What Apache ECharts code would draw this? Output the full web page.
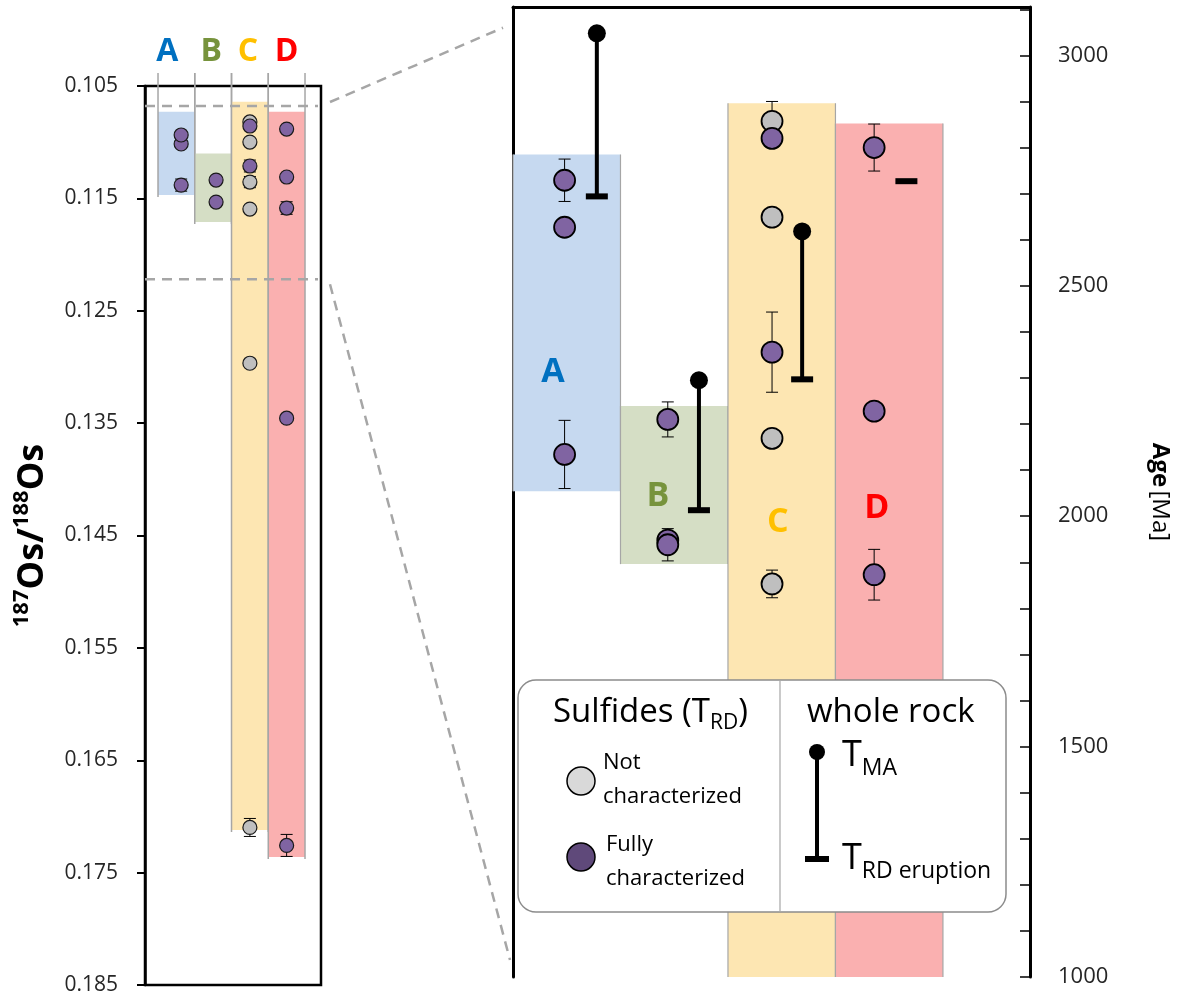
<!DOCTYPE html>
<html>
<head>
<meta charset="utf-8">
<script src="https://cdn.jsdelivr.net/npm/echarts@6/dist/echarts.min.js"></script>
<style>
  html, body { margin: 0; padding: 0; background: #fff; }
  #chart { width: 1185px; height: 999px; }
</style>
</head>
<body>
<div id="chart"></div>
<script>
// groups
const groups = ['A', 'B', 'C', 'D'];
const groupColors = ['#0070C0', '#77933C', '#FFC000', '#FF0000'];
const fillColors = ['#C6D9F0', '#D5DEC5', '#FDE6B2', '#FAB0B0'];

// left panel: 187Os/188Os of sulfides
const osTicks = [0.105, 0.115, 0.125, 0.135, 0.145, 0.155, 0.165, 0.175, 0.185];
const osRangeTop = [0.1073, 0.1110, 0.1064, 0.1073];
const osRangeBottom = [0.1147, 0.1171, 0.1712, 0.1736];
const osGroup = [0, 0, 0, 1, 1, 2, 2, 2, 2, 2, 2, 2, 2, 3, 3, 3, 3, 3];
const osValue = [0.11016, 0.10936, 0.11382, 0.11337, 0.11533, 0.1082, 0.10856, 0.10999, 0.11212, 0.11355, 0.11595, 0.12967, 0.17098, 0.10883, 0.1131, 0.11586, 0.13456, 0.17258];
const osFully = [1, 1, 1, 1, 1, 0, 1, 0, 1, 0, 0, 0, 0, 1, 1, 1, 1, 1];
const osErr = [0, 0, 0.00054, 0, 0, 0, 0, 0, 0.00053, 0.0005, 0, 0, 0.0008, 0, 0, 0.00056, 0, 0.00098];
const zoomOs = [0.10678, 0.1222];

// right panel: ages in Ma
const ageLabels = [1000, 1500, 2000, 2500, 3000];
const ageTicks = [1000, 1100, 1200, 1300, 1400, 1500, 1600, 1700, 1800, 1900, 2000, 2100, 2200, 2300, 2400, 2500, 2600, 2700, 2800, 2900, 3000, 3100];
const ageRangeTop = [2785, 2239, 2896, 2852];
const ageRangeBottom = [2054, 1896, 1000, 1000];
const ageGroup = [0, 0, 0, 1, 1, 1, 2, 2, 2, 2, 2, 2, 3, 3, 3];
const ageValue = [2729, 2627, 2134, 2210, 1948, 1938, 2857, 2820, 2649, 2356, 2169, 1853, 2800, 2228, 1873];
const ageFully = [1, 1, 1, 1, 1, 1, 0, 1, 0, 1, 0, 0, 1, 1, 1];
const ageErr = [46, 0, 74, 38, 0, 35, 43, 0, 0, 87, 0, 30, 51, 0, 55];
// whole rock
const tma = [3048, 2295, 2618, null];
const trdEruption = [2694, 2013, 2297, 2727];

// layout (column units: bar i spans [i, i+1])
const osColX = [0.63, 1.58, 2.5, 3.5];
const leftLetterShift = [-9, -2, -2, 0];
const ageColX = [0.48, 1.44, 2.41, 3.36];
const wrColX = [0.78, 1.73, 2.69, 3.66];
const rightLetterX = [0.372, 1.349, 2.465, 3.386];
const rightLetterAge = [2312, 2043, 1987, 2017];

const FONT = '"Open Sans", sans-serif';
const chart = echarts.init(document.getElementById('chart'));

function barItem(fills, withEdges, letterFn) {
  return function (params, api) {
    const i = api.value(0);
    const p1 = api.coord([i, api.value(1)]);
    const p2 = api.coord([i + 1, api.value(2)]);
    const x0 = p1[0], x1 = p2[0];
    const y0 = Math.min(p1[1], p2[1]), y1 = Math.max(p1[1], p2[1]);
    const top = params.coordSys.y;
    const kids = [{ type: 'rect', shape: { x: x0, y: y0, width: x1 - x0, height: y1 - y0 }, style: { fill: fills[i] } }];
    const ey = withEdges ? top - 13 : y0;
    const ew = withEdges ? 1.5 : 1.2;
    kids.push({ type: 'line', shape: { x1: x0, y1: ey, x2: x0, y2: y1 + (withEdges ? 2 : 0) }, style: { stroke: '#A6A6A6', lineWidth: ew } });
    kids.push({ type: 'line', shape: { x1: x1, y1: ey, x2: x1, y2: y1 + (withEdges ? 2 : 0) }, style: { stroke: '#A6A6A6', lineWidth: ew } });
    if (letterFn) kids.push(letterFn(i, x0, x1, top, api));
    return { type: 'group', children: kids };
  };
}

function errItem(capHalf) {
  return function (params, api) {
    const x = api.value(0);
    const a = api.coord([x, api.value(1)]);
    const b = api.coord([x, api.value(2)]);
    const st = { stroke: '#000', lineWidth: 1 };
    return { type: 'group', children: [
      { type: 'line', shape: { x1: a[0], y1: a[1], x2: b[0], y2: b[1] }, style: st },
      { type: 'line', shape: { x1: a[0] - capHalf, y1: a[1], x2: a[0] + capHalf, y2: a[1] }, style: st },
      { type: 'line', shape: { x1: b[0] - capHalf, y1: b[1], x2: b[0] + capHalf, y2: b[1] }, style: st }
    ] };
  };
}

const osErrData = [], ageErrData = [];
osValue.forEach((v, k) => { if (osErr[k]) osErrData.push([osColX[osGroup[k]], v - osErr[k], v + osErr[k]]); });
ageValue.forEach((v, k) => { if (ageErr[k]) ageErrData.push([ageColX[ageGroup[k]], v - ageErr[k], v + ageErr[k]]); });

function pts(values, grp, fully, colX, flag) {
  const out = [];
  values.forEach((v, k) => { if (fully[k] === flag) out.push([colX[grp[k]], v]); });
  return out;
}

const option = {
  animation: false,
  grid: [
    { left: 145, top: 86, width: 176, height: 899, show: true, borderColor: '#000', borderWidth: 2.5, backgroundColor: 'transparent' },
    { left: 513, top: 7, width: 517, height: 970 }
  ],
  xAxis: [
    { type: 'value', gridIndex: 0, min: -0.354, max: 4.435, show: false },
    { type: 'value', gridIndex: 1, min: 0, max: 4.81, position: 'top',
      axisLine: { show: true, onZero: false, lineStyle: { color: '#000', width: 3 } },
      axisTick: { show: false }, axisLabel: { show: false }, splitLine: { show: false } }
  ],
  yAxis: [
    { type: 'value', gridIndex: 0, inverse: true, min: 0.105, max: 0.185, position: 'left',
      axisLine: { show: true, onZero: false, lineStyle: { color: '#000', width: 2.5 } },
      axisTick: { show: true, inside: false, length: 8, customValues: osTicks, lineStyle: { color: '#000', width: 2 } },
      axisLabel: { customValues: osTicks, margin: 27, color: '#262626', fontSize: 21, fontFamily: FONT, formatter: v => v.toFixed(3) },
      splitLine: { show: false },
      name: '{s|187}{o|Os/}{s|188}{o|Os}', nameLocation: 'middle', nameRotate: 90, nameGap: 90,
      nameTextStyle: { rich: {
        o: { fontSize: 36, fontWeight: 'bold', fontFamily: FONT, color: '#000', lineHeight: 44 },
        s: { fontSize: 22, fontWeight: 'bold', fontFamily: FONT, color: '#000', lineHeight: 34, verticalAlign: 'top' }
      } } },
    { type: 'value', gridIndex: 1, position: 'right', min: 1000, max: 3105,
      axisLine: { show: true, onZero: false, lineStyle: { color: '#000', width: 3 } },
      axisTick: { show: true, inside: true, length: 10, customValues: ageTicks, lineStyle: { color: '#000', width: 1.5 } },
      axisLabel: { customValues: ageLabels, margin: 28, color: '#262626', fontSize: 22, fontFamily: FONT, formatter: v => String(v) },
      splitLine: { show: false },
      name: '{b|Age} {n|[Ma]}', nameLocation: 'middle', nameRotate: -90, nameGap: 118,
      nameTextStyle: { rich: {
        b: { fontSize: 24, fontWeight: 'bold', fontFamily: FONT, color: '#000' },
        n: { fontSize: 24, fontFamily: FONT, color: '#000' }
      } } },
    { type: 'value', gridIndex: 1, position: 'left', min: 1000, max: 3105,
      axisLine: { show: true, onZero: false, lineStyle: { color: '#000', width: 3 } },
      axisTick: { show: false }, axisLabel: { show: false }, splitLine: { show: false } }
  ],
  series: [
    { type: 'custom', xAxisIndex: 0, yAxisIndex: 0, clip: false, z: 1,
      data: groups.map((g, i) => [i, osRangeTop[i], osRangeBottom[i]]),
      renderItem: barItem(fillColors, true, (i, x0, x1, top) => ({
        type: 'text', style: { text: groups[i], x: (x0 + x1) / 2 + leftLetterShift[i], y: top - 34,
          align: 'center', verticalAlign: 'middle', font: 'bold 32px ' + FONT, fill: groupColors[i] } })) },
    { type: 'custom', xAxisIndex: 1, yAxisIndex: 1, clip: false, z: 1,
      data: groups.map((g, i) => [i, ageRangeTop[i], ageRangeBottom[i]]),
      renderItem: barItem(fillColors, false, (i, x0, x1, top, api) => {
        const p = api.coord([rightLetterX[i], rightLetterAge[i]]);
        return { type: 'text', style: { text: groups[i], x: p[0], y: p[1], align: 'center', verticalAlign: 'middle',
          font: 'bold 34px ' + FONT, fill: groupColors[i] } };
      }) },
    { type: 'custom', xAxisIndex: 0, yAxisIndex: 0, clip: false, z: 2, data: osErrData, renderItem: errItem(6) },
    { type: 'custom', xAxisIndex: 1, yAxisIndex: 1, clip: false, z: 2, data: ageErrData, renderItem: errItem(6) },
    { type: 'scatter', xAxisIndex: 0, yAxisIndex: 0, z: 3, symbolSize: 14,
      itemStyle: { color: '#BFBFBF', borderColor: '#1a1a1a', borderWidth: 1.2, opacity: 1 },
      data: pts(osValue, osGroup, osFully, osColX, 0) },
    { type: 'scatter', xAxisIndex: 0, yAxisIndex: 0, z: 3, symbolSize: 14,
      itemStyle: { color: '#8064A2', borderColor: '#1a1a1a', borderWidth: 1.2, opacity: 1 },
      data: pts(osValue, osGroup, osFully, osColX, 1) },
    { type: 'scatter', xAxisIndex: 1, yAxisIndex: 1, z: 3, symbolSize: 21,
      itemStyle: { color: '#BFBFBF', borderColor: '#000', borderWidth: 1.8, opacity: 1 },
      data: pts(ageValue, ageGroup, ageFully, ageColX, 0) },
    { type: 'scatter', xAxisIndex: 1, yAxisIndex: 1, z: 3, symbolSize: 21,
      itemStyle: { color: '#8064A2', borderColor: '#000', borderWidth: 1.8, opacity: 1 },
      data: pts(ageValue, ageGroup, ageFully, ageColX, 1) },
    { type: 'custom', xAxisIndex: 1, yAxisIndex: 1, clip: false, z: 4,
      data: groups.map((g, i) => [wrColX[i], trdEruption[i]]),
      renderItem: (params, api) => {
        const e = api.coord([api.value(0), api.value(1)]);
        const kids = [{ type: 'rect', shape: { x: e[0] - 11, y: e[1] - 3, width: 22, height: 6 }, style: { fill: '#000' } }];
        const t = tma[params.dataIndex];
        if (t != null) {
          const s = api.coord([api.value(0), t]);
          kids.push({ type: 'line', shape: { x1: s[0], y1: s[1], x2: e[0], y2: e[1] }, style: { stroke: '#000', lineWidth: 4 } });
          kids.push({ type: 'circle', shape: { cx: s[0], cy: s[1], r: 9 }, style: { fill: '#000' } });
        }
        return { type: 'group', children: kids };
      } }
  ]
};
chart.setOption(option);

// zoom guides and legend
const yTop = chart.convertToPixel({ yAxisIndex: 0 }, zoomOs[0]);
const yBot = chart.convertToPixel({ yAxisIndex: 0 }, zoomOs[1]);
const yAgeTop = chart.convertToPixel({ yAxisIndex: 1 }, 3060);
const yAgeBot = chart.convertToPixel({ yAxisIndex: 1 }, 1037);
const dash = { stroke: '#A6A6A6', lineWidth: 2.5, lineDash: [10, 7] };
const txt = (text, x, y, size, extra) => ({ type: 'text', z: 12, style: Object.assign({ text, x, y, font: size + 'px ' + FONT, fill: '#000', verticalAlign: 'top' }, extra || {}) });
chart.setOption({
  graphic: [
    { type: 'line', z: 5, shape: { x1: 145, y1: yTop, x2: 318, y2: yTop }, style: dash },
    { type: 'line', z: 5, shape: { x1: 330, y1: yTop - 4, x2: 503, y2: yAgeTop }, style: dash },
    { type: 'line', z: 5, shape: { x1: 145, y1: yBot, x2: 318, y2: yBot }, style: dash },
    { type: 'line', z: 5, shape: { x1: 330, y1: yBot + 5, x2: 510, y2: yAgeBot }, style: dash },
    { type: 'rect', z: 10, shape: { x: 518, y: 680, width: 488, height: 232, r: 18 }, style: { fill: '#fff', stroke: '#8C8C8C', lineWidth: 1.5 } },
    { type: 'line', z: 11, shape: { x1: 780, y1: 681, x2: 780, y2: 911 }, style: { stroke: '#A6A6A6', lineWidth: 1.2 } },
    { type: 'text', z: 12, style: { x: 553, y: 692, text: '{m|Sulfides (T}{s|RD}{m|)}', verticalAlign: 'top',
      rich: { m: { fontSize: 33, fontFamily: FONT, lineHeight: 42, fill: '#000' }, s: { fontSize: 21, fontFamily: FONT, lineHeight: 20, verticalAlign: 'bottom', fill: '#000' } } } },
    { type: 'text', z: 12, style: { x: 807, y: 713, text: 'whole rock', verticalAlign: 'middle', font: '33px ' + FONT, fill: '#000' } },
    { type: 'circle', z: 12, shape: { cx: 581, cy: 781, r: 14 }, style: { fill: '#D9D9D9', stroke: '#000', lineWidth: 1.5 } },
    { type: 'circle', z: 12, shape: { cx: 581, cy: 857, r: 14 }, style: { fill: '#5F497A', stroke: '#000', lineWidth: 1.5 } },
    txt('Not\ncharacterized', 603, 746, 22, { lineHeight: 34 }),
    txt('Fully\ncharacterized', 606, 828, 22, { lineHeight: 34 }),
    { type: 'line', z: 12, shape: { x1: 817, y1: 752, x2: 817, y2: 859 }, style: { stroke: '#000', lineWidth: 4 } },
    { type: 'circle', z: 12, shape: { cx: 817, cy: 752, r: 8 }, style: { fill: '#000' } },
    { type: 'rect', z: 12, shape: { x: 805, y: 856, width: 24, height: 6 }, style: { fill: '#000' } },
    { type: 'text', z: 12, style: { x: 842, y: 732, text: '{t|T}{s|MA}', verticalAlign: 'top',
      rich: { t: { fontSize: 36, fontFamily: FONT, lineHeight: 48, fill: '#000' }, s: { fontSize: 23, fontFamily: FONT, lineHeight: 23, verticalAlign: 'bottom', fill: '#000' } } } },
    { type: 'text', z: 12, style: { x: 842, y: 835, text: '{t|T}{s|RD eruption}', verticalAlign: 'top',
      rich: { t: { fontSize: 36, fontFamily: FONT, lineHeight: 48, fill: '#000' }, s: { fontSize: 23, fontFamily: FONT, lineHeight: 23, verticalAlign: 'bottom', fill: '#000' } } } }
  ]
});
</script>
</body>
</html>
